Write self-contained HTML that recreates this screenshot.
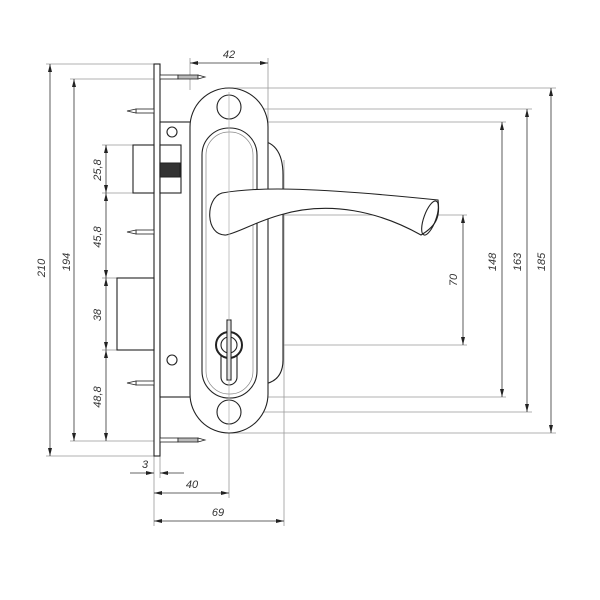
<!DOCTYPE html>
<html><head><meta charset="utf-8"><style>
html,body{margin:0;padding:0;background:#fff}
svg{display:block}
text{font-family:"Liberation Sans",sans-serif;font-style:italic;font-size:11px;fill:#333}
</style></head><body>
<svg width="600" height="600" viewBox="0 0 600 600" xmlns="http://www.w3.org/2000/svg">
<defs>
<marker id="a" markerWidth="8" markerHeight="6" refX="8" refY="3" orient="auto-start-reverse" markerUnits="userSpaceOnUse"><path d="M0,1 L8,3 L0,5 z" fill="#222"/></marker>
</defs>
<g stroke="#999" stroke-width="0.8" fill="none">
<!-- extension lines left -->
<line x1="46" y1="64" x2="154" y2="64"/><line x1="46" y1="456" x2="154" y2="456"/>
<line x1="70" y1="79" x2="160" y2="79"/><line x1="70" y1="441" x2="160" y2="441"/>
<line x1="102" y1="145" x2="134" y2="145"/><line x1="102" y1="193" x2="134" y2="193"/>
<line x1="102" y1="278" x2="118" y2="278"/><line x1="102" y1="350" x2="118" y2="350"/>
<!-- extension right -->
<line x1="229" y1="88" x2="556" y2="88"/><line x1="229" y1="433" x2="556" y2="433"/>
<line x1="229" y1="109" x2="532" y2="109"/><line x1="229" y1="412" x2="532" y2="412"/>
<line x1="229" y1="122" x2="506" y2="122"/><line x1="229" y1="397" x2="506" y2="397"/>
<line x1="229" y1="215" x2="467" y2="215"/><line x1="229" y1="345" x2="467" y2="345"/>
<!-- vertical extension -->
<line x1="190" y1="58" x2="190" y2="90"/><line x1="268" y1="58" x2="268" y2="160"/>
<line x1="154" y1="456" x2="154" y2="526"/><line x1="160" y1="456" x2="160" y2="478"/>
<line x1="229" y1="88" x2="229" y2="498"/><line x1="284" y1="160" x2="284" y2="526"/>
</g>
<g stroke="#333" stroke-width="0.8" fill="none">
<line x1="50" y1="64" x2="50" y2="456" marker-start="url(#a)" marker-end="url(#a)"/>
<line x1="74" y1="79" x2="74" y2="441" marker-start="url(#a)" marker-end="url(#a)"/>
<line x1="106" y1="145" x2="106" y2="193" marker-start="url(#a)" marker-end="url(#a)"/>
<line x1="106" y1="193" x2="106" y2="278" marker-start="url(#a)" marker-end="url(#a)"/>
<line x1="106" y1="278" x2="106" y2="350" marker-start="url(#a)" marker-end="url(#a)"/>
<line x1="106" y1="350" x2="106" y2="441" marker-start="url(#a)" marker-end="url(#a)"/>
<line x1="551" y1="88" x2="551" y2="433" marker-start="url(#a)" marker-end="url(#a)"/>
<line x1="527" y1="109" x2="527" y2="412" marker-start="url(#a)" marker-end="url(#a)"/>
<line x1="502" y1="122" x2="502" y2="397" marker-start="url(#a)" marker-end="url(#a)"/>
<line x1="463" y1="215" x2="463" y2="345" marker-start="url(#a)" marker-end="url(#a)"/>
<line x1="190" y1="63" x2="268" y2="63" marker-start="url(#a)" marker-end="url(#a)"/>
<line x1="154" y1="493" x2="229" y2="493" marker-start="url(#a)" marker-end="url(#a)"/>
<line x1="154" y1="521" x2="284" y2="521" marker-start="url(#a)" marker-end="url(#a)"/>
<line x1="130" y1="473" x2="154" y2="473" marker-end="url(#a)"/>
<line x1="184" y1="473" x2="160" y2="473" marker-end="url(#a)"/>
</g>
<!-- dimension text -->
<text x="229" y="58" text-anchor="middle">42</text>
<text x="145" y="468" text-anchor="middle">3</text>
<text x="192" y="488" text-anchor="middle">40</text>
<text x="218" y="516" text-anchor="middle">69</text>
<text transform="translate(45,268) rotate(-90)" text-anchor="middle">210</text>
<text transform="translate(70,262) rotate(-90)" text-anchor="middle">194</text>
<text transform="translate(101,170) rotate(-90)" text-anchor="middle">25,8</text>
<text transform="translate(101,237) rotate(-90)" text-anchor="middle">45,8</text>
<text transform="translate(101,315) rotate(-90)" text-anchor="middle">38</text>
<text transform="translate(101,397) rotate(-90)" text-anchor="middle">48,8</text>
<text transform="translate(457,280) rotate(-90)" text-anchor="middle">70</text>
<text transform="translate(496,262) rotate(-90)" text-anchor="middle">148</text>
<text transform="translate(521,262) rotate(-90)" text-anchor="middle">163</text>
<text transform="translate(545,262) rotate(-90)" text-anchor="middle">185</text>
<!-- lock -->
<g stroke="#222" stroke-width="1.1" fill="#fff">
<rect x="154" y="64" width="6" height="392"/>
<rect x="160" y="122" width="32" height="275"/>
<rect x="117" y="278" width="37" height="72"/>
<rect x="133" y="145" width="21" height="48"/>
<rect x="160" y="145" width="21" height="48"/>
<path d="M160 163 h20 v14 h-20z" fill="#333"/>
<!-- rear plate -->
<path d="M255 140 Q283 140 283 175 V360 Q283 385 255 385 Z"/>
<!-- handle plate -->
<rect x="190" y="88" width="78" height="345" rx="39"/>
<rect x="202" y="128" width="55" height="270" rx="27" fill="none"/>
<rect x="206" y="132" width="47" height="262" rx="23" fill="none" stroke="#888" stroke-width="0.7"/>
<circle cx="229" cy="107" r="12"/>
<circle cx="229" cy="412" r="12"/>
<!-- cylinder -->
<rect x="221" y="345" width="16" height="40" rx="8"/>
<circle cx="229" cy="345" r="13" stroke-width="2"/>
<circle cx="229" cy="345" r="8"/>
<rect x="227" y="320" width="4" height="60" fill="#fff"/>
<!-- screws -->
<circle cx="172" cy="132" r="5"/><circle cx="172" cy="360" r="5"/>
<!-- nails -->
<g stroke-width="0.8">
<rect x="160" y="75" width="18" height="4"/><rect x="178" y="75" width="20" height="4" fill="#bbb"/><path d="M198 75 L205 77 L198 79z"/>
<rect x="160" y="438" width="18" height="4"/><rect x="178" y="438" width="20" height="4" fill="#bbb"/><path d="M198 438 L205 440 L198 442z"/>
<rect x="136" y="109" width="18" height="4"/><path d="M136 109 L127 111 L136 113z"/>
<rect x="136" y="230" width="18" height="4"/><path d="M136 230 L127 232 L136 234z"/>
<rect x="136" y="381" width="18" height="4"/><path d="M136 381 L127 383 L136 385z"/>
</g>
<!-- lever -->
<path d="M222 193 C260 186 320 188 438 200 C440 215 438 225 421 235 C380 212 330 200 280 215 C255 222 240 232 226 235 C205 236 205 198 222 193 Z"/>
<ellipse cx="430" cy="218" rx="6" ry="18" transform="rotate(20 430 218)" fill="none"/>
</g>
<g stroke="#aaa" stroke-width="0.7">
<line x1="229" y1="92" x2="229" y2="430"/>
</g>
</svg>
</body></html>
